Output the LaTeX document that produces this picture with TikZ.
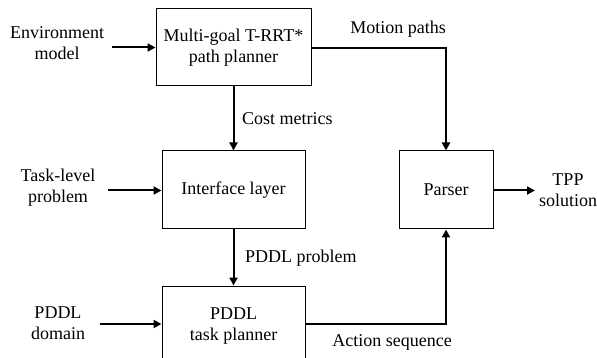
\documentclass[tikz,border=0pt]{standalone}
\usepackage{fontspec}
\setmainfont{Liberation Serif}
\usetikzlibrary{arrows.meta}
\begin{document}
\begin{tikzpicture}[x=1pt,y=-1pt,
  box/.style={draw, line width=1pt, minimum width=#1, inner sep=0pt, align=center},
  lbl/.style={align=center, inner sep=0pt},
  arr/.style={line width=2pt, -{Triangle[length=8pt,width=8pt]}},
  every node/.style={font=\fontsize{18}{21}\selectfont}]
\useasboundingbox (0,0) rectangle (597,358);
% boxes
\node[box=155pt, minimum height=77pt] (mg) at (233.5,47.5) {Multi-goal T-RRT*\\path planner};
\node[box=143pt, minimum height=78pt] (il) at (233.5,190) {Interface layer};
\node[box=143pt, minimum height=84pt] (tp) at (233.5,328) {};
\node[lbl] (tpt) at (233.5,326) {PDDL\\task planner};
\node[box=94pt, minimum height=78pt] (ps) at (446,190) {Parser};
% inputs
\node[lbl] (env) at (57,43.5) {Environment\\model};
\node[lbl] (tlp) at (58,188) {Task-level\\problem};
\node[lbl] (pdd) at (58,323) {PDDL\\domain};
\node[lbl] (tpp) at (568,190) {TPP\\solution};
\coordinate (envs) at (112,47.5);
\coordinate (tlps) at (108,190.5);
\coordinate (pdds) at (100,324);
\draw[arr] (envs) -- (envs -| mg.west);
\draw[arr] (tlps) -- (tlps -| il.west);
\draw[arr] (pdds) -- (pdds -| tp.west);
% internal
\draw[arr] (mg.south) -- (il.north);
\draw[arr] (il.south) -- (tp.north);
\draw[arr] (mg.east |- 0,48) -- (ps.north |- 0,48) -- (ps.north);
\draw[arr] (tp.east |- 0,324) -- (ps.south |- 0,324) -- (ps.south);
\coordinate (tppe) at (535,190.5);
\draw[arr] (ps.east |- tppe) -- (tppe);
% labels
\node[lbl, anchor=west] (cm) at (242,119) {Cost metrics};
\node[lbl, anchor=west] (pp) at (245,258) {PDDL problem};
\node[lbl] (mp) at (398,29) {Motion paths};
\node[lbl] (as) at (392,342) {Action sequence};
\end{tikzpicture}
\end{document}
